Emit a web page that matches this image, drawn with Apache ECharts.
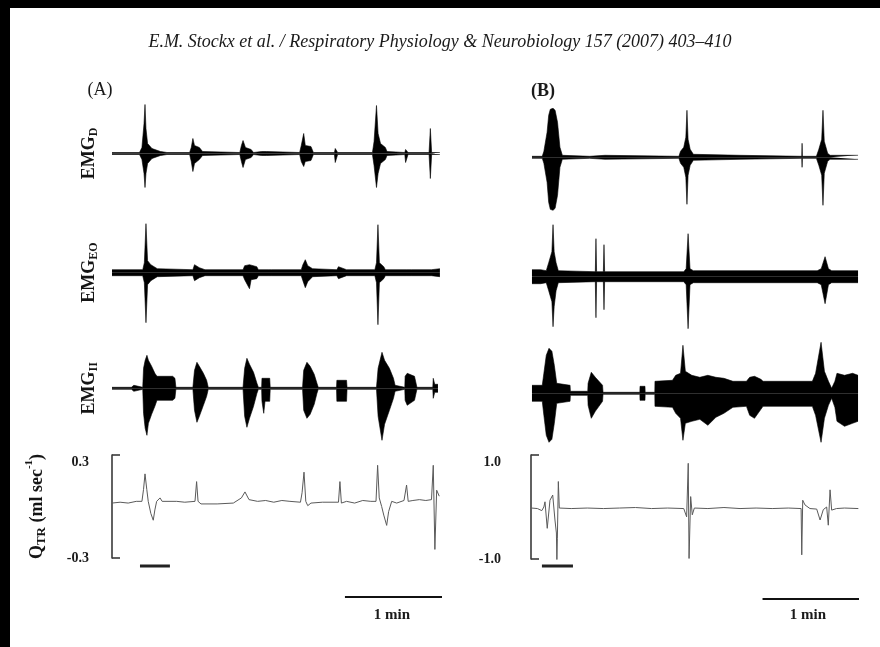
<!DOCTYPE html>
<html><head><meta charset="utf-8">
<script src="https://cdn.jsdelivr.net/npm/echarts/dist/echarts.min.js"></script>
<style>html,body{margin:0;padding:0;background:#fff}#c{width:880px;height:647px}</style>
</head><body><div id="c"></div>
<script>
// ---------- DATA (time in s, EMG envelopes as [t, upper, lower] in arbitrary units) ----------
const titleText = 'E.M. Stockx et al. / Respiratory Physiology & Neurobiology 157 (2007) 403\u2013410';
const panelLabels = ['(A)', '(B)'];
const emgNames = ['D', 'EO', 'II'];
const scaleLabel = '1 min';

const emgD_A = [[0,1,1],[17,1,1],[18.5,6,6],[19.8,30,20],[20.4,49,34],[21,25,20],[22,10,10],[24.7,5,5],[30,2,2],[34,1,1],[48,1,1],[49,6,8],[50,15,18],[51,8,10],[54,6,6],[56,2,2],[79,1,1],[80,8,8],[81,13,14],[82.5,6,6],[86,4,4],[87.5,1,1],[92.5,2,2],[95.5,2,2],[96,1,1],[116,1,1],[117,8,8],[118.5,20,13],[119.5,8,8],[123,7,7],[124.5,1,1],[137.5,1,1],[138,5,9],[139,5,9],[139.5,1,1],[161,1,1],[162,12,12],[163.5,48,34],[164.5,20,20],[166,10,10],[169,6,6],[170,2,2],[181,1,1],[181.5,4,9],[182.5,4,9],[183,1,1],[196,1,1],[196.8,25,25],[197.6,1,1],[202.7,1,1]];
const emgEO_A = [[0,3,3],[19,3,3],[20,10,10],[21,49,50],[22,12,12],[24,8,8],[28,4,4],[29,3,3],[50,3,3],[51,8,8],[54,5,5],[57.5,3,3],[81,3,3],[82,7,7],[85,8,16],[86,7,7],[89.5,6,6],[90.5,3,3],[96.5,3,3],[97.5,5,5],[98.5,3,3],[117,3,3],[118,8,8],[119.5,13,15],[121,7,9],[124,4,4],[125,3,3],[139,3,3],[140,6,6],[145,3,3],[162.5,3,3],[163.5,10,10],[164.4,48,52],[165.3,10,10],[168,6,6],[169,3,3],[182.3,3,3],[183.3,5,5],[185,3,3],[197.5,3,3],[198.5,5,5],[202.7,4,4]];
const emgII_A = [[0,1,1],[12,1,1],[12.5,3,3],[13.5,3,3],[14,1,1],[19,1,1],[19.5,20,25],[20.5,28,40],[21.6,33,47],[22.5,28,35],[24.5,22,26],[26.5,15,18],[27.8,12,12],[37.5,12,12],[38.9,10,10],[39.5,1,1],[50,1,1],[51,18,22],[52.5,26,34],[54,22,28],[56.5,15,17],[58.5,8,8],[59.5,1,1],[81,1,1],[82,20,28],[83.4,30,39],[85,24,30],[87.5,16,18],[89.6,5,5],[90.5,1,1],[92.5,1,1],[92.7,10,13],[93.8,10,25],[94.6,10,13],[97.5,10,13],[97.8,1,1],[117.8,1,1],[118.5,18,22],[120.5,26,30],[122.5,22,26],[125,14,16],[126.7,5,5],[127.5,1,1],[138.8,1,1],[139,8,13],[145,8,13],[145.3,1,1],[163.5,1,1],[164.5,20,28],[166.9,36,52],[168.5,28,36],[171.5,20,22],[174,10,10],[175,3,3],[176,1,1],[181,1,1],[181.2,12,12],[182.5,15,17],[187,12,12],[188.5,1,1],[198.3,1,1],[198.6,10,10],[199.5,4,4],[201.5,4,4]];
const emgD_B = [[0.6,1,1],[7,1,1],[8,6,6],[10,25,25],[11,42,45],[12,48,52],[13.7,49,53],[15,47,51],[16.5,35,38],[18,10,10],[19.5,2,2],[36.5,1,1],[37,2,2],[46,2,2],[46.5,1,1],[92,1,1],[93,6,6],[95,10,10],[96.3,20,20],[97,47,47],[97.7,18,18],[99,8,8],[101,3,3],[130,2,2],[131,1,1],[168.4,1,1],[168.6,14,10],[168.8,1,1],[177.5,1,1],[179,8,8],[180.8,18,18],[181.6,47,48],[182.4,16,16],[184.5,4,4],[186,2,2],[203.4,2,2]];
const emgEO_B = [[0.6,7,7],[6,7,7],[7,5,5],[9.5,6,6],[11,14,14],[13,25,25],[13.7,52,50],[14.4,25,30],[15.6,14,14],[17,6,6],[40,5,5],[40.4,38,41],[40.8,5,5],[45,5,5],[45.4,32,33],[45.8,5,5],[95,5,5],[96.5,8,8],[97.7,43,52],[98.9,8,8],[101,6,6],[178,6,6],[180.5,8,8],[182.9,20,27],[185,8,8],[187,6,6],[203.4,6,6]];
const emgII_B = [[0.6,8,8],[7,8,8],[8,20,22],[9.5,38,42],[11.2,45,49],[13,42,46],[14.5,28,30],[16,10,10],[24.3,8,8],[24.5,2,2],[35.3,2,2],[35.5,10,12],[37.5,21,25],[40,16,18],[44.5,8,8],[44.8,1,1],[67.7,1,1],[67.8,7,7],[70.9,7,7],[71,1,1],[77,1,1],[77.1,12,13],[88,13,14],[90,18,20],[93,20,25],[94.5,48,47],[96,22,30],[100,18,28],[105,16,26],[110,18,32],[115,16,24],[120,15,20],[125.6,12,14],[134,12,13],[136,16,22],[139,17,25],[143,14,16],[144.3,12,13],[175,12,13],[177,20,22],[180.4,51,49],[182.5,22,25],[185,12,12],[187,5,5],[189,12,14],[190.3,20,28],[195,18,33],[200,20,30],[203.4,18,28]];

const qtrA = [[0,0.02],[5,0.025],[10,0.02],[15,0.03],[18.5,0.03],[19.5,0.1],[20.4,0.19],[21.5,0.1],[22.4,0.03],[24,-0.04],[25.5,-0.08],[26.5,-0.02],[27.6,0.03],[29.7,0.05],[31,0.03],[40,0.03],[45,0.025],[51.3,0.03],[52.3,0.145],[53.2,0.03],[55,0.015],[65,0.015],[75,0.02],[80,0.05],[82.2,0.085],[84.7,0.04],[90,0.03],[95,0.035],[100,0.025],[105,0.035],[110,0.03],[116.5,0.025],[117.5,0.08],[118.7,0.2],[119.8,0.03],[121,0.005],[123,0.02],[130,0.025],[140,0.025],[140.9,0.145],[141.8,0.02],[145,0.03],[150,0.02],[155,0.035],[160,0.03],[163.2,0.03],[164.2,0.24],[165.2,0.05],[166.7,0.0],[168,-0.05],[169.8,-0.11],[171,-0.03],[172.9,0.03],[176,0.02],[180.5,0.035],[182.1,0.125],[183.1,0.03],[186,0.035],[190,0.04],[194,0.035],[197.5,0.04],[198.6,0.24],[199.6,-0.25],[200.7,0.095],[202.3,0.06]];
const qtrB = [[0.4,-0.02],[4,-0.03],[6.7,-0.07],[8,0.0],[8.7,0.1],[10.1,-0.41],[11.8,0.13],[13.5,0.23],[14.9,-0.25],[15.8,-0.5],[16.1,-1.02],[16.4,-0.6],[17,0.49],[17.6,-0.02],[18.5,-0.01],[25,-0.03],[35,-0.02],[45,-0.03],[55,-0.02],[65,-0.01],[75,-0.03],[85,-0.02],[95,-0.03],[96.8,-0.19],[97.8,0.84],[98.3,-0.99],[99.3,0.2],[100.3,-0.15],[101.6,-0.02],[110,-0.03],[120,-0.01],[130,-0.03],[140,-0.02],[150,-0.03],[160,-0.02],[168,-0.03],[168.4,-0.92],[169,0.13],[170.4,0.04],[173.5,-0.03],[177.7,-0.04],[179.8,-0.25],[181.8,-0.05],[183.9,0.0],[184.9,-0.35],[186,0.33],[187,-0.06],[190,-0.03],[195,-0.02],[203.6,-0.03]];

const qtrRangeA = [-0.3, 0.3];
const qtrRangeB = [-1.0, 1.0];
const eventBarA = [17.3, 35.8];
const eventBarB = [6.8, 26.1];
const scaleBarA = [144, 204];
const scaleBarB = [144, 204];
const timeMax = 204;

// ---------- LAYOUT ----------
const SERIF = '"Liberation Serif", "DejaVu Serif", serif';
const cols = [{left:112, width:330}, {left:531, width:328}];
const emgBase = [[153.5, 272.7, 388.3], [157.3, 276.7, 393.3]];
const EMG_H = 120;

const grids = [], xAxes = [], yAxes = [], series = [];
function addGrid(col, top, height, yAxis) {
  const i = grids.length;
  grids.push({left: cols[col].left, width: cols[col].width, top: top, height: height, containLabel: false, outerBoundsMode: 'none'});
  xAxes.push({type: 'value', gridIndex: i, min: 0, max: timeMax, show: false});
  yAxis.gridIndex = i;
  yAxes.push(yAxis);
  return i;
}
const hiddenY = (min, max) => ({type: 'value', min: min, max: max, axisLine: {show: false}, axisTick: {show: false}, axisLabel: {show: false}, splitLine: {show: false}});

const emgRich = {
  m: {fontFamily: SERIF, fontWeight: 'bold', fontSize: 18, color: '#151515', verticalAlign: 'top', lineHeight: 20},
  s: {fontFamily: SERIF, fontWeight: 'bold', fontSize: 12, color: '#151515', verticalAlign: 'top', padding: [8, 0, 0, 0], lineHeight: 14}
};

const emgSets = [[emgD_A, emgEO_A, emgII_A], [emgD_B, emgEO_B, emgII_B]];
[0, 1].forEach(col => {
  emgSets[col].forEach((arr, r) => {
    const y = hiddenY(-EMG_H / 2, EMG_H / 2);
    if (col === 0) {
      y.name = '{m|EMG}{s|' + emgNames[r] + '}';
      y.nameLocation = 'middle';
      y.nameRotate = 90;
      y.nameGap = 12;
      y.nameTextStyle = {rich: emgRich};
    }
    const gi = addGrid(col, emgBase[col][r] - EMG_H / 2, EMG_H, y);
    const common = {type: 'line', xAxisIndex: gi, yAxisIndex: gi, symbol: 'none', showSymbol: false, silent: true, animation: false,
      lineStyle: {color: '#000', width: 0.6}, areaStyle: {color: '#000', opacity: 1}};
    series.push(Object.assign({}, common, {data: arr.map(p => [p[0], p[1]])}));
    series.push(Object.assign({}, common, {data: arr.map(p => [p[0], -p[2]])}));
  });
});

// QTR panels
const qtrSets = [
  {data: qtrA, range: qtrRangeA, top: 455, height: 103, offset: 12, ev: eventBarA, sc: scaleBarA, scTop: 597},
  {data: qtrB, range: qtrRangeB, top: 455, height: 104, offset: 19, ev: eventBarB, sc: scaleBarB, scTop: 599}
];
qtrSets.forEach((q, col) => {
  const y = {
    type: 'value', min: q.range[0], max: q.range[1], interval: q.range[1] - q.range[0], offset: q.offset,
    axisLine: {show: true, lineStyle: {color: '#3a3a3a', width: 1.6}},
    axisTick: {show: true, inside: true, length: 8, lineStyle: {color: '#3a3a3a', width: 1.6}},
    axisLabel: {show: true, showMinLabel: true, showMaxLabel: true, margin: 11, formatter: v => v.toFixed(1),
      fontFamily: SERIF, fontWeight: 'bold', fontSize: 14, color: '#1a1a1a', verticalAlignMaxLabel: 'top'},
    splitLine: {show: false}
  };
  if (col === 0) {
    y.name = '{m|Q}{s|TR}{m| (ml sec}{p|-1}{m|)}';
    y.nameLocation = 'middle';
    y.nameRotate = 90;
    y.nameGap = 56;
    y.nameTextStyle = {rich: {
      m: {fontFamily: SERIF, fontWeight: 'bold', fontSize: 18, color: '#151515', verticalAlign: 'top', padding: [4, 0, 0, 0], lineHeight: 20},
      s: {fontFamily: SERIF, fontWeight: 'bold', fontSize: 13, color: '#151515', verticalAlign: 'top', padding: [11, 0, 0, 0], lineHeight: 15},
      p: {fontFamily: SERIF, fontWeight: 'bold', fontSize: 11, color: '#151515', verticalAlign: 'top', padding: [0, 0, 0, 0], lineHeight: 12}
    }};
  }
  const gi = addGrid(col, q.top, q.height, y);
  series.push({type: 'line', xAxisIndex: gi, yAxisIndex: gi, data: q.data, symbol: 'none', showSymbol: false, silent: true, animation: false,
    lineStyle: {color: '#5a5a5a', width: 1}});
  const ge = addGrid(col, 565, 2, hiddenY(-1, 1));
  series.push({type: 'line', xAxisIndex: ge, yAxisIndex: ge, data: q.ev.map(t => [t, 0]), symbol: 'none', silent: true, animation: false,
    lineStyle: {color: '#222', width: 3}});
  const gs = addGrid(col, q.scTop - 1, 2, hiddenY(-1, 1));
  series.push({type: 'line', xAxisIndex: gs, yAxisIndex: gs, data: q.sc.map(t => [t, 0]), symbol: 'none', silent: true, animation: false,
    lineStyle: {color: '#111', width: 2}});
});

function txt(x, y, text, font, extra) {
  return Object.assign({type: 'text', x: x, y: y, silent: true, style: {text: text, font: font, fill: '#1a1a1a',
    align: 'center', verticalAlign: 'middle', textAlign: 'center', textVerticalAlign: 'middle'}}, extra || {});
}

const chart = echarts.init(document.getElementById('c'), null, {renderer: 'canvas'});
chart.setOption({
  backgroundColor: '#fff',
  animation: false,
  grid: grids, xAxis: xAxes, yAxis: yAxes, series: series,
  graphic: [
    {type: 'rect', silent: true, shape: {x: 0, y: 0, width: 880, height: 8}, style: {fill: '#000'}},
    {type: 'rect', silent: true, shape: {x: 0, y: 0, width: 10, height: 647}, style: {fill: '#000'}},
    txt(440, 42, titleText, 'italic 18px ' + SERIF),
    txt(100, 90, panelLabels[0], '18px ' + SERIF),
    txt(543, 91, panelLabels[1], 'bold 18px ' + SERIF),
    txt(392, 615, scaleLabel, 'bold 15px ' + SERIF),
    txt(808, 615, scaleLabel, 'bold 15px ' + SERIF)
  ]
});
</script></body></html>
